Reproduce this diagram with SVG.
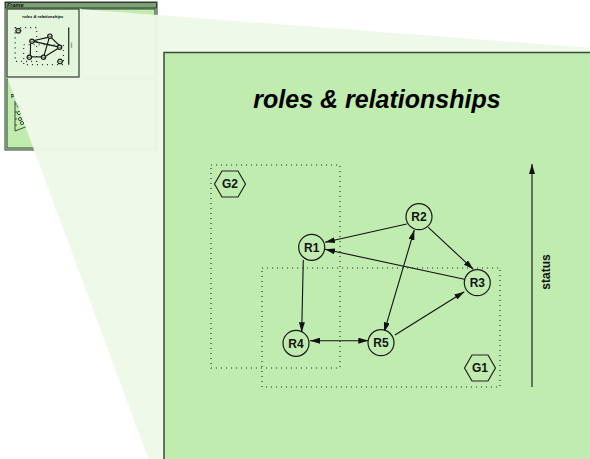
<svg xmlns="http://www.w3.org/2000/svg" xmlns:xlink="http://www.w3.org/1999/xlink" width="590" height="459" viewBox="0 0 590 459">
  <style>
    .panel { fill: #c0ecb0; stroke: #3c4a3c; stroke-width: 1.5; }
    .mini { fill: #c0ecb0; stroke: #2f3f2f; stroke-width: 1; }
    .grp { fill: none; stroke: #333; stroke-width: 1.2; stroke-dasharray: 1.1 3.9; vector-effect: non-scaling-stroke; }
    .node circle { fill: #c0ecb0; stroke: #1a1a1a; stroke-width: 1.2; vector-effect: non-scaling-stroke; }
    .hex polygon { fill: #c0ecb0; stroke: #222; stroke-width: 1.2; vector-effect: non-scaling-stroke; }
    .lbl { font-family: "Liberation Sans", Arial, sans-serif; font-weight: bold; font-size: 12px; fill: #111; text-anchor: middle; }
    .edge { stroke: #111; stroke-width: 1.1; fill: none; vector-effect: non-scaling-stroke; }
    .title { font-family: "Liberation Sans", Arial, sans-serif; font-weight: bold; font-style: italic; font-size: 25px; fill: #000; text-anchor: middle; }
  </style>
  <defs>
    <marker id="arrow" viewBox="0 0 10 6" refX="10" refY="3" markerWidth="10" markerHeight="6" markerUnits="userSpaceOnUse" orient="auto-start-reverse">
      <path d="M0,0 L10,3 L0,6 z" fill="#111"/>
    </marker>
  </defs>

  <!-- overview frame with its three panes -->
  <g id="overview-frame">
    <rect class="mini" x="5" y="2" width="152" height="148"/>
    <rect x="5.5" y="2.5" width="151" height="5.5" fill="#7a9f72" stroke="#2f3f2f" stroke-width="1"/>
    <text x="7" y="7" font-family="Liberation Sans, Arial, sans-serif" font-size="5.5" font-weight="bold" font-style="italic" fill="#111">Frame</text>
    <rect class="mini" x="82" y="9" width="73" height="68"/>
    <rect class="mini" x="7" y="79" width="148" height="69"/>
    <g id="legend-pane" stroke="#222" stroke-width="0.8" fill="none">
      <text x="11" y="98" font-family="Liberation Sans, Arial, sans-serif" font-size="5" font-weight="bold" fill="#111" stroke="none">P</text>
      <path d="M15,101 V131 L28,126"/>
      <path d="M15,104 h2 M15,112 h2 M15,119 h2 M15,125 h2"/>
      <polygon points="17,106 18,104.5 20,104.5 21,106 20,107.5 18,107.5"/>
      <polygon points="17,113 18,111.5 20,111.5 21,113 20,114.5 18,114.5"/>
      <circle cx="20" cy="119" r="1.6"/>
      <circle cx="22" cy="123" r="1.6"/>
    </g>
  </g>

  <!-- magnifier wedge from the overview pane to the detail view -->
  <polygon id="lens" points="7,9 79,9 680,54.7 680,600 200.7,600 7,77" fill="#eef9e8" opacity="0.96"/>

  <!-- overview pane showing the whole diagram -->
  <g id="overview-pane">
    <rect x="7" y="9" width="72" height="68" fill="#e3f5da" stroke="#2f3f2f" stroke-width="1.2"/>
    <use xlink:href="#diagram" href="#diagram" transform="translate(-20.1,0) scale(0.167)"/>
  </g>

  <!-- detail view -->
  <rect id="view-panel" class="panel" x="164" y="52.5" width="500" height="500"/>

  <g id="diagram">
    <text class="title" x="377" y="108">roles &amp; relationships</text>

    <g id="group-G2">
      <rect class="grp" x="211" y="165" width="129" height="203"/>
      <g class="hex">
        <polygon points="214.5,184 222,171 238,171 245.5,184 238,197 222,197"/>
        <text class="lbl" x="230" y="188.3">G2</text>
      </g>
    </g>
    <g id="group-G1">
      <rect class="grp" x="262" y="268" width="238" height="119"/>
      <g class="hex">
        <polygon points="464.5,368 472,355 488,355 495.5,368 488,381 472,381"/>
        <text class="lbl" x="480" y="372.3">G1</text>
      </g>
    </g>

    <g id="connectors">
      <line class="edge" x1="406.7" y1="224" x2="325" y2="242.3" marker-end="url(#arrow)"/>
      <line class="edge" x1="464.3" y1="279.3" x2="325" y2="249.3" marker-end="url(#arrow)"/>
      <line class="edge" x1="428.3" y1="227.3" x2="473.3" y2="269.3" marker-end="url(#arrow)"/>
      <line class="edge" x1="303.3" y1="260" x2="301.7" y2="332.3" marker-end="url(#arrow)"/>
      <line class="edge" x1="310" y1="340.7" x2="368.3" y2="340.7" marker-start="url(#arrow)" marker-end="url(#arrow)"/>
      <line class="edge" x1="414.3" y1="230" x2="384" y2="332.3" marker-start="url(#arrow)" marker-end="url(#arrow)"/>
      <line class="edge" x1="395" y1="335" x2="464.3" y2="291.7" marker-end="url(#arrow)"/>
    </g>

    <g id="R1" class="node"><circle cx="311.7" cy="247.3" r="13"/><text class="lbl" x="311.7" y="251.6">R1</text></g>
    <g id="R2" class="node"><circle cx="419" cy="216.7" r="13"/><text class="lbl" x="419" y="221">R2</text></g>
    <g id="R3" class="node"><circle cx="477.3" cy="282.7" r="13"/><text class="lbl" x="477.3" y="287">R3</text></g>
    <g id="R4" class="node"><circle cx="296" cy="343.3" r="13"/><text class="lbl" x="296" y="347.6">R4</text></g>
    <g id="R5" class="node"><circle cx="381" cy="342.7" r="13"/><text class="lbl" x="381" y="347">R5</text></g>

    <g id="status-axis">
      <line class="edge" x1="532" y1="387" x2="532" y2="164" marker-end="url(#arrow)"/>
      <text class="lbl" transform="translate(550,272) rotate(-90)" x="0" y="0">status</text>
    </g>
  </g>
</svg>
